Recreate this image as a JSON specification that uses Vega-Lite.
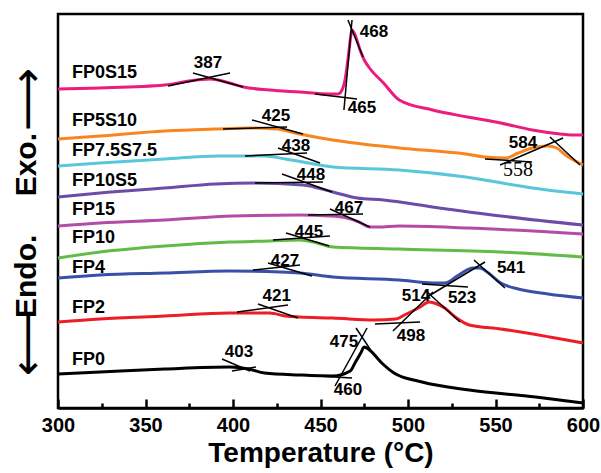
{
  "$schema": "https://vega.github.io/schema/vega-lite/v6.json",
  "width": 525,
  "height": 394,
  "autosize": {"type": "none"},
  "padding": {"left": 58, "top": 14, "right": 18, "bottom": 65},
  "config": {
    "view": {"stroke": "black", "strokeWidth": 2.5},
    "font": "Liberation Sans"
  },
  "resolve": {"axis": {"x": "independent", "y": "independent"}},
  "datasets": {
    "curves": [
      {"s":"FP0S15","T":300,"v":319},{"s":"FP0S15","T":324,"v":320},{"s":"FP0S15","T":361,"v":323},{"s":"FP0S15","T":375,"v":327},{"s":"FP0S15","T":387,"v":329},{"s":"FP0S15","T":398,"v":325},{"s":"FP0S15","T":406,"v":321},{"s":"FP0S15","T":421,"v":318},{"s":"FP0S15","T":438,"v":316},{"s":"FP0S15","T":455,"v":314},{"s":"FP0S15","T":460,"v":314},{"s":"FP0S15","T":462,"v":317},{"s":"FP0S15","T":464,"v":328},{"s":"FP0S15","T":466,"v":353},{"s":"FP0S15","T":467.4,"v":373},{"s":"FP0S15","T":468,"v":378},{"s":"FP0S15","T":470,"v":372},{"s":"FP0S15","T":472.6,"v":358},{"s":"FP0S15","T":475,"v":348},{"s":"FP0S15","T":478,"v":340},{"s":"FP0S15","T":486,"v":325},{"s":"FP0S15","T":495,"v":308},{"s":"FP0S15","T":514,"v":298},{"s":"FP0S15","T":534,"v":291},{"s":"FP0S15","T":553,"v":285},{"s":"FP0S15","T":571,"v":278},{"s":"FP0S15","T":587,"v":274},{"s":"FP0S15","T":593,"v":273},{"s":"FP0S15","T":600,"v":273},
      {"s":"FP5S10","T":300,"v":269},{"s":"FP5S10","T":324,"v":272},{"s":"FP5S10","T":361,"v":277},{"s":"FP5S10","T":390,"v":279},{"s":"FP5S10","T":410,"v":280},{"s":"FP5S10","T":425,"v":279},{"s":"FP5S10","T":438,"v":274},{"s":"FP5S10","T":457,"v":268},{"s":"FP5S10","T":495,"v":260},{"s":"FP5S10","T":533,"v":254},{"s":"FP5S10","T":544,"v":251},{"s":"FP5S10","T":556,"v":250},{"s":"FP5S10","T":563,"v":255},{"s":"FP5S10","T":571,"v":260},{"s":"FP5S10","T":580,"v":262},{"s":"FP5S10","T":585,"v":260},{"s":"FP5S10","T":590,"v":253},{"s":"FP5S10","T":600,"v":243},
      {"s":"FP7.5S7.5","T":300,"v":242},{"s":"FP7.5S7.5","T":324,"v":245},{"s":"FP7.5S7.5","T":361,"v":249},{"s":"FP7.5S7.5","T":392,"v":252},{"s":"FP7.5S7.5","T":418,"v":252},{"s":"FP7.5S7.5","T":430,"v":249},{"s":"FP7.5S7.5","T":443,"v":245},{"s":"FP7.5S7.5","T":457,"v":241},{"s":"FP7.5S7.5","T":495,"v":238},{"s":"FP7.5S7.5","T":533,"v":231},{"s":"FP7.5S7.5","T":571,"v":220},{"s":"FP7.5S7.5","T":600,"v":214},
      {"s":"FP10S5","T":300,"v":211},{"s":"FP10S5","T":324,"v":215},{"s":"FP10S5","T":361,"v":220},{"s":"FP10S5","T":390,"v":224},{"s":"FP10S5","T":412,"v":225},{"s":"FP10S5","T":440,"v":223},{"s":"FP10S5","T":457,"v":216},{"s":"FP10S5","T":471,"v":210},{"s":"FP10S5","T":486,"v":208},{"s":"FP10S5","T":514,"v":201},{"s":"FP10S5","T":553,"v":192},{"s":"FP10S5","T":600,"v":183},
      {"s":"FP15","T":300,"v":182},{"s":"FP15","T":324,"v":185},{"s":"FP15","T":361,"v":188},{"s":"FP15","T":400,"v":192},{"s":"FP15","T":438,"v":193},{"s":"FP15","T":455,"v":192},{"s":"FP15","T":465,"v":190},{"s":"FP15","T":472,"v":186},{"s":"FP15","T":478,"v":181},{"s":"FP15","T":483,"v":181},{"s":"FP15","T":495,"v":182},{"s":"FP15","T":534,"v":180},{"s":"FP15","T":600,"v":174},
      {"s":"FP10","T":300,"v":150},{"s":"FP10","T":324,"v":156},{"s":"FP10","T":361,"v":162},{"s":"FP10","T":398,"v":166},{"s":"FP10","T":421,"v":167},{"s":"FP10","T":438,"v":168},{"s":"FP10","T":448,"v":165},{"s":"FP10","T":457,"v":161},{"s":"FP10","T":495,"v":159},{"s":"FP10","T":553,"v":156},{"s":"FP10","T":600,"v":151},
      {"s":"FP4","T":300,"v":130},{"s":"FP4","T":324,"v":133},{"s":"FP4","T":361,"v":135},{"s":"FP4","T":398,"v":137},{"s":"FP4","T":427,"v":136},{"s":"FP4","T":438,"v":135},{"s":"FP4","T":457,"v":131},{"s":"FP4","T":495,"v":128},{"s":"FP4","T":514,"v":125},{"s":"FP4","T":521,"v":125},{"s":"FP4","T":529,"v":133},{"s":"FP4","T":537,"v":140},{"s":"FP4","T":541,"v":140},{"s":"FP4","T":546,"v":135},{"s":"FP4","T":553,"v":125},{"s":"FP4","T":563,"v":119},{"s":"FP4","T":580,"v":114},{"s":"FP4","T":600,"v":110},
      {"s":"FP2","T":300,"v":86},{"s":"FP2","T":324,"v":89},{"s":"FP2","T":361,"v":92},{"s":"FP2","T":398,"v":95},{"s":"FP2","T":421,"v":95},{"s":"FP2","T":430,"v":92},{"s":"FP2","T":438,"v":91},{"s":"FP2","T":457,"v":90},{"s":"FP2","T":481,"v":88},{"s":"FP2","T":493,"v":89},{"s":"FP2","T":498,"v":93},{"s":"FP2","T":507,"v":101},{"s":"FP2","T":512,"v":106},{"s":"FP2","T":515,"v":105},{"s":"FP2","T":521,"v":100},{"s":"FP2","T":527,"v":91},{"s":"FP2","T":535,"v":83},{"s":"FP2","T":553,"v":79},{"s":"FP2","T":581,"v":71},{"s":"FP2","T":600,"v":65},
      {"s":"FP0","T":300,"v":34},{"s":"FP0","T":324,"v":36},{"s":"FP0","T":361,"v":39},{"s":"FP0","T":398,"v":41},{"s":"FP0","T":409,"v":39},{"s":"FP0","T":418,"v":35},{"s":"FP0","T":438,"v":33},{"s":"FP0","T":457,"v":32},{"s":"FP0","T":467,"v":37},{"s":"FP0","T":470,"v":46},{"s":"FP0","T":473,"v":55},{"s":"FP0","T":475,"v":61},{"s":"FP0","T":478,"v":58},{"s":"FP0","T":485,"v":45},{"s":"FP0","T":492,"v":35},{"s":"FP0","T":508,"v":26},{"s":"FP0","T":535,"v":18},{"s":"FP0","T":573,"v":11},{"s":"FP0","T":600,"v":5}
    ],
    "names": [
      {"s":"FP0S15","T":308,"v":335},{"s":"FP5S10","T":308,"v":287},{"s":"FP7.5S7.5","T":308,"v":257},{"s":"FP10S5","T":308,"v":227},{"s":"FP15","T":308,"v":198},{"s":"FP10","T":308,"v":170},{"s":"FP4","T":308,"v":140},{"s":"FP2","T":308,"v":100},{"s":"FP0","T":308,"v":48}
    ],
    "nums": [
      {"t":"387","T":385.7,"v":345},{"t":"468","T":480.6,"v":376},{"t":"465","T":473.7,"v":300},{"t":"425","T":424.6,"v":292},{"t":"438","T":436,"v":262},{"t":"448","T":444.6,"v":233},{"t":"467","T":466.3,"v":200},{"t":"445","T":443.4,"v":176},{"t":"427","T":429.7,"v":147},{"t":"421","T":425,"v":112},{"t":"584","T":565.7,"v":265},{"t":"541","T":558.9,"v":140},{"t":"514","T":504.6,"v":112},{"t":"523","T":530.9,"v":110},{"t":"498","T":501.7,"v":72},{"t":"403","T":403.4,"v":56},{"t":"475","T":463.4,"v":66},{"t":"460","T":465.7,"v":18}
    ],
    "serifnums": [
      {"t":"558","T":562.9,"v":238}
    ],
    "tangents": [
      {"T1":362.9,"v1":322,"T2":398.3,"v2":335},{"T1":377.1,"v1":335,"T2":405.7,"v2":321},
      {"T1":463.4,"v1":298,"T2":468,"v2":388},{"T1":465.7,"v1":388,"T2":474.3,"v2":351},{"T1":446.9,"v1":314,"T2":470.9,"v2":309},
      {"T1":410.9,"v1":288,"T2":440,"v2":274},{"T1":394.3,"v1":279,"T2":430.9,"v2":281},
      {"T1":425.7,"v1":260,"T2":449.7,"v2":245},{"T1":406.9,"v1":252,"T2":442.3,"v2":255},
      {"T1":428,"v1":234,"T2":456.6,"v2":216},{"T1":412.6,"v1":225,"T2":451.4,"v2":226},
      {"T1":455.4,"v1":199,"T2":478.3,"v2":181},{"T1":442.9,"v1":193,"T2":474.3,"v2":194},
      {"T1":430.3,"v1":175,"T2":454.9,"v2":162},{"T1":422.9,"v1":168,"T2":455.4,"v2":172},
      {"T1":420,"v1":145,"T2":445.1,"v2":132},{"T1":411.4,"v1":138,"T2":438.3,"v2":143},
      {"T1":414.3,"v1":104,"T2":437.1,"v2":90},{"T1":402.3,"v1":96,"T2":431.4,"v2":103},
      {"T1":393.7,"v1":49,"T2":409.7,"v2":37},{"T1":399.4,"v1":37,"T2":413.1,"v2":41},
      {"T1":458.3,"v1":22,"T2":476.6,"v2":80},{"T1":470.3,"v1":80,"T2":479.4,"v2":56},{"T1":448.6,"v1":32,"T2":468,"v2":30},
      {"T1":481.1,"v1":84,"T2":506.9,"v2":86},{"T1":491.4,"v1":77,"T2":514.3,"v2":116},{"T1":509.7,"v1":118,"T2":529.7,"v2":86},
      {"T1":508,"v1":124,"T2":534.3,"v2":121},{"T1":510.9,"v1":111,"T2":544,"v2":146},{"T1":537.7,"v1":148,"T2":555.4,"v2":120},
      {"T1":544,"v1":249,"T2":570.9,"v2":246},{"T1":552.6,"v1":243,"T2":588.6,"v2":270},{"T1":581.1,"v1":271,"T2":598.3,"v2":243}
    ]
  },
  "layer": [
    {
      "data": {"name": "curves"},
      "mark": {"type": "line", "strokeWidth": 3, "interpolate": "monotone"},
      "encoding": {
        "x": {
          "field": "T", "type": "quantitative",
          "scale": {"domain": [300, 600], "nice": false, "zero": false},
          "axis": {
            "orient": "bottom",
            "values": [300,350,400,450,500,550,600],
            "ticks": false,
            "domainColor": "black", "domainWidth": 2.5,
            "grid": false,
            "labelFontSize": 20, "labelFontWeight": "bold", "labelColor": "black",
            "labelFont": "Liberation Sans",
            "labelPadding": 7, "labelFlush": false, "labelOverlap": false,
            "title": "Temperature (°C)",
            "titleFontSize": 28, "titleFontWeight": "bold", "titleColor": "black",
            "titleFont": "Liberation Sans", "titlePadding": 4
          }
        },
        "y": {
          "field": "v", "type": "quantitative",
          "scale": {"domain": [0, 394], "nice": false, "zero": false},
          "axis": {
            "orient": "left",
            "labels": false, "ticks": false, "domain": false, "grid": false,
            "title": "Endo.\u2003\u00a0Exo.",
            "titleFontSize": 30, "titleFontWeight": "bold", "titleColor": "black",
            "titleFont": "Liberation Sans", "titlePadding": 17, "titleY": 211
          }
        },
        "color": {
          "field": "s", "type": "nominal", "legend": null,
          "scale": {
            "domain": ["FP0S15","FP5S10","FP7.5S7.5","FP10S5","FP15","FP10","FP4","FP2","FP0"],
            "range": ["#EC1C7C","#F7861E","#5AC6DC","#6B4CA8","#B54BA8","#62BB47","#3A50A8","#EE1C25","#000000"]
          }
        },
        "detail": {"field": "s"}
      }
    },
    {
      "data": {"name": "tangents"},
      "mark": {"type": "rule", "color": "black", "strokeWidth": 1.5},
      "encoding": {
        "x": {
          "field": "T1", "type": "quantitative",
          "axis": {
            "orient": "top", "offset": -394,
            "values": [300,350,400,450,500,550,600],
            "tickSize": 9, "tickWidth": 2.5, "tickColor": "black",
            "labels": false, "domain": false, "grid": false, "title": null
          }
        },
        "y": {
          "field": "v1", "type": "quantitative",
          "axis": {
            "orient": "left",
            "labels": false, "ticks": false, "domain": false, "grid": false,
            "title": "\u27f5\u00a0\u00a0\u00a0\u00a0\u00a0\u00a0\u00a0\u00a0\u00a0\u00a0\u00a0\u00a0\u00a0\u27f6",
            "titleFontSize": 44, "titleFontWeight": "normal", "titleColor": "black",
            "titleFont": "DejaVu Sans", "titlePadding": 8, "titleY": 207.5
          }
        },
        "x2": {"field": "T2"},
        "y2": {"field": "v2"}
      }
    },
    {
      "data": {"name": "names"},
      "mark": {"type": "text", "align": "left", "baseline": "middle", "fontSize": 18, "fontWeight": "bold", "color": "black", "font": "Liberation Sans"},
      "encoding": {
        "x": {
          "field": "T", "type": "quantitative",
          "axis": {
            "orient": "top", "offset": -394,
            "values": [325,375,425,475,525,575],
            "tickSize": 5, "tickWidth": 2.5, "tickColor": "black",
            "labels": false, "domain": false, "grid": false, "title": null
          }
        },
        "y": {"field": "v", "type": "quantitative", "axis": null},
        "text": {"field": "s"}
      }
    },
    {
      "data": {"name": "nums"},
      "mark": {"type": "text", "align": "center", "baseline": "middle", "fontSize": 17, "fontWeight": "bold", "color": "black", "font": "Liberation Sans"},
      "encoding": {
        "x": {"field": "T", "type": "quantitative", "axis": null},
        "y": {"field": "v", "type": "quantitative", "axis": null},
        "text": {"field": "t"}
      }
    },
    {
      "data": {"name": "serifnums"},
      "mark": {"type": "text", "align": "center", "baseline": "middle", "fontSize": 20, "color": "black", "font": "Liberation Serif"},
      "encoding": {
        "x": {"field": "T", "type": "quantitative", "axis": null},
        "y": {"field": "v", "type": "quantitative", "axis": null},
        "text": {"field": "t"}
      }
    }
  ]
}
